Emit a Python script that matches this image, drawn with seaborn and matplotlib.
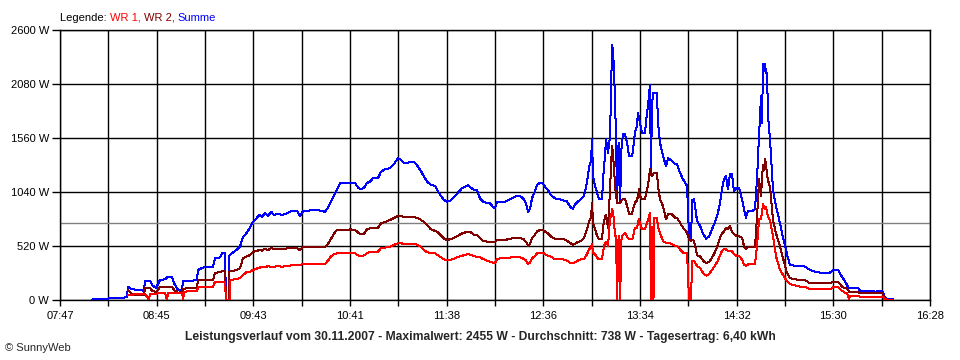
import numpy as np
import pandas as pd
import matplotlib
matplotlib.use("Agg")
import matplotlib.pyplot as plt
import seaborn as sns

nan = np.nan

# ---------------- data ----------------
# sample times in minutes after midnight
time_min = [
    486.2, 491.0, 495.7, 496.9, 502.9, 507.1, 507.7, 509.5, 511.9, 514.9,
    517.3, 517.9, 520.3, 520.9, 522.1, 524.5, 526.9, 529.9, 531.1, 531.7,
    534.1, 535.3, 537.7, 540.1, 540.7, 541.3, 544.9, 549.0, 549.6, 553.8,
    558.6, 559.8, 562.8, 564.0, 565.8, 566.4, 567.9, 568.5, 569.1, 571.8,
    574.8, 576.6, 579.0, 580.8, 582.6, 584.4, 586.2, 588.0, 589.8, 591.6,
    593.4, 595.2, 597.5, 599.9, 602.3, 604.7, 606.5, 608.9, 610.7, 612.5,
    615.5, 618.5, 621.5, 623.9, 625.7, 627.5, 629.3, 631.1, 632.9, 634.7,
    637.7, 640.7, 643.7, 645.5, 647.3, 649.1, 650.8, 652.6, 654.4, 657.4,
    659.2, 661.6, 664.6, 667.0, 669.4, 671.2, 673.0, 674.8, 676.6, 679.0,
    681.4, 683.2, 685.0, 686.8, 689.2, 691.6, 693.4, 695.2, 697.0, 698.8,
    700.6, 702.3, 704.1, 705.9, 707.7, 709.5, 711.3, 713.1, 714.9, 716.7,
    718.5, 720.3, 722.7, 724.5, 726.3, 727.5, 728.7, 730.5, 733.5, 735.3,
    737.7, 740.1, 742.5, 744.3, 746.1, 747.3, 748.5, 749.7, 751.5, 752.6,
    754.4, 756.2, 757.4, 759.2, 761.0, 763.4, 766.4, 768.2, 770.6, 772.4,
    774.2, 775.4, 777.2, 779.0, 780.8, 782.6, 783.8, 785.0, 785.6, 786.2,
    787.4, 788.6, 789.8, 791.6, 792.2, 793.4, 794.0, 795.2, 796.4, 797.0,
    797.6, 798.2, 798.8, 799.4, 800.0, 800.6, 801.5, 802.4, 803.3, 804.2,
    805.4, 806.6, 807.8, 809.5, 810.1, 811.3, 812.5, 813.1, 813.7, 814.3,
    815.5, 817.3, 818.5, 819.1, 820.3, 820.9, 821.5, 822.4, 823.0, 824.5,
    825.1, 826.3, 828.1, 829.9, 831.1, 833.5, 835.3, 836.5, 838.3, 840.1,
    842.5, 843.7, 844.9, 845.5, 846.7, 848.5, 850.3, 852.1, 853.9, 855.7,
    857.5, 859.2, 861.0, 862.2, 863.4, 864.6, 865.8, 867.0, 868.2, 869.4,
    870.6, 872.4, 873.6, 875.4, 876.6, 877.8, 879.0, 881.4, 883.2, 884.4,
    885.6, 886.8, 887.4, 888.0, 888.6, 889.2, 889.8, 890.4, 891.0, 892.2,
    894.0, 895.8, 898.2, 900.0, 901.8, 903.0, 904.2, 907.2, 910.2, 913.1,
    916.1, 919.1, 922.1, 925.1, 928.1, 929.9, 932.9, 935.3, 937.1, 938.3,
    939.5, 940.1, 941.3, 944.9, 946.1, 949.1, 952.1, 955.1, 958.1, 959.9,
    960.5, 962.3, 965.8,
]

summe_w = [
    5, 7, 10, 20, 22, 25, 128, 110, 100, 95,
    90, 186, 180, 186, 145, 115, 193, 200, 218, 218,
    218, 160, 96, 100, 186, 186, 186, 190, 289, 321,
    321, 401, 410, 450, 450, 0, 0, 433, 440, 470,
    514, 607, 650, 700, 754, 780, 820, 800, 840, 810,
    850, 820, 830, 820, 830, 850, 860, 860, 809, 855,
    860, 867, 867, 855, 850, 890, 950, 1010, 1060, 1124,
    1124, 1124, 1130, 1080, 1066, 1080, 1127, 1140, 1172, 1172,
    1235, 1260, 1268, 1310, 1364, 1350, 1316, 1316, 1332, 1332,
    1284, 1240, 1188, 1140, 1107, 1100, 1043, 1000, 963, 947,
    955, 979, 1010, 1043, 1076, 1090, 1107, 1080, 1059, 1059,
    980, 947, 934, 930, 898, 883, 947, 947, 947, 960,
    982, 1000, 1001, 979, 930, 850, 880, 982, 1050, 1107,
    1130, 1120, 1091, 1059, 1011, 979, 970, 960, 950, 900,
    875, 921, 950, 970, 1000, 1130, 1280, 1339, 1547, 1194,
    1100, 1033, 970, 970, 1162, 1400, 1547, 1418, 1579, 2000,
    2455, 2400, 2189, 1900, 1547, 937, 1515, 937, 1483, 1595,
    1595, 1515, 1387, 1387, 1435, 1611, 1675, 1804, 1750, 1707,
    1611, 1611, 1804, 1868, 2070, 1200, 1900, 1997, 1997, 1997,
    1707, 1515, 1387, 1290, 1365, 1339, 1307, 1307, 1226, 1162,
    1098, 616, 568, 960, 970, 761, 713, 640, 590, 610,
    684, 744, 841, 931, 1066, 1162, 1194, 1066, 1210, 1210,
    1050, 1082, 1082, 970, 876, 793, 857, 857, 873, 1162,
    1579, 1964, 1707, 2272, 2200, 2272, 2189, 2189, 1772, 1541,
    1059, 900, 738, 600, 481, 400, 337, 330, 330, 321,
    289, 273, 263, 263, 263, 289, 289, 224, 180, 144,
    112, 112, 119, 119, 90, 80, 90, 80, 85, 80,
    32, 10, 8,
]

wr2_w = [
    nan, nan, nan, nan, nan, nan, 96, 65, 50, 50,
    50, 120, 118, 120, 90, 75, 125, 130, 125, 128,
    130, 96, 70, 75, 110, 110, 113, 115, 193, 193,
    193, 260, 270, 275, 275, 0, 0, 275, 278, 285,
    305, 404, 420, 433, 465, 470, 480, 475, 495, 480,
    500, 490, 495, 490, 495, 500, 498, 500, 481, 507,
    507, 507, 510, 507, 507, 540, 590, 640, 674, 674,
    670, 680, 674, 650, 632, 640, 680, 690, 690, 695,
    738, 750, 770, 790, 809, 809, 796, 796, 796, 796,
    790, 770, 754, 720, 680, 665, 650, 620, 590, 578,
    585, 594, 610, 625, 640, 650, 658, 650, 630, 626,
    600, 570, 562, 562, 560, 555, 578, 578, 578, 585,
    594, 600, 594, 590, 560, 520, 540, 594, 630, 660,
    674, 674, 660, 640, 610, 590, 590, 590, 570, 552,
    530, 540, 560, 568, 600, 680, 760, 793, 937, 744,
    680, 620, 584, 584, 700, 809, 820, 696, 1066, 1300,
    1483, 1400, 1259, 1100, 1001, 937, 937, 937, 960, 970,
    970, 905, 825, 825, 870, 937, 960, 1000, 1066, 1000,
    970, 970, 1066, 1100, 1259, 1200, 1194, 1220, 1226, 1226,
    1100, 970, 905, 777, 825, 825, 793, 793, 744, 696,
    648, 580, 568, 580, 568, 430, 420, 380, 355, 365,
    408, 460, 530, 600, 640, 660, 696, 680, 713, 660,
    632, 616, 616, 600, 520, 488, 514, 514, 514, 793,
    1162, 1000, 1178, 1300, 1250, 1355, 1318, 1200, 1150, 1091,
    770, 640, 514, 400, 289, 240, 209, 200, 193, 193,
    160, 160, 160, 160, 160, 176, 176, 130, 112, 112,
    80, 80, 80, 80, 64, 64, 64, 64, 64, 64,
    16, 5, 3,
]

wr1_w = [
    nan, nan, nan, nan, nan, nan, 48, 50, 55, 55,
    58, 62, 0, 62, 62, 62, 64, 64, 0, 64,
    64, 64, 64, 70, 0, 80, 85, 85, 122, 122,
    125, 176, 176, 176, 176, 0, 0, 0, 190, 200,
    209, 240, 273, 273, 290, 300, 310, 320, 318, 325,
    321, 321, 325, 321, 325, 330, 337, 337, 337, 347,
    347, 347, 347, 347, 347, 380, 420, 440, 450, 450,
    450, 455, 450, 430, 424, 430, 450, 465, 465, 465,
    498, 505, 514, 530, 546, 546, 540, 540, 540, 540,
    530, 510, 480, 460, 450, 450, 430, 410, 390, 385,
    385, 395, 405, 417, 425, 435, 443, 435, 420, 417,
    410, 395, 379, 370, 359, 355, 395, 401, 401, 405,
    411, 411, 411, 400, 380, 347, 360, 401, 425, 450,
    456, 456, 440, 425, 417, 392, 392, 392, 380, 359,
    359, 362, 380, 392, 395, 440, 490, 504, 536, 456,
    440, 410, 392, 392, 470, 552, 560, 520, 793, 800,
    876, 850, 744, 616, 616, 0, 616, 0, 616, 625,
    648, 610, 584, 584, 600, 696, 696, 740, 777, 740,
    680, 680, 744, 760, 841, 0, 700, 0, 793, 793,
    700, 648, 568, 552, 552, 540, 520, 520, 488, 456,
    456, 0, 0, 376, 376, 327, 310, 260, 235, 250,
    290, 330, 380, 430, 470, 488, 488, 472, 472, 472,
    440, 424, 424, 390, 340, 327, 343, 343, 343, 520,
    777, 777, 850, 921, 900, 873, 898, 850, 800, 770,
    610, 420, 289, 240, 193, 170, 154, 140, 128, 128,
    103, 103, 103, 103, 103, 122, 122, 90, 71, 71,
    10, 38, 38, 38, 32, 32, 32, 32, 32, 32,
    10, 3, 2,
]

average_w = 738
y_ticks_w = [0, 520, 1040, 1560, 2080, 2600]
x_tick_labels = ["07:47", "08:45", "09:43", "10:41", "11:38",
                 "12:36", "13:34", "14:32", "15:30", "16:28"]
x_start_min, x_end_min = 467, 988  # 07:47 .. 16:28

legend_parts = ["Legende: ", "WR 1, ", "WR 2, ", "Summe"]
title_text = ("Leistungsverlauf vom 30.11.2007 - Maximalwert: 2455 W - "
              "Durchschnitt: 738 W - Tagesertrag: 6,40 kWh")
credit_text = "\u00a9 SunnyWeb"

assert len(time_min) == len(summe_w) == len(wr2_w) == len(wr1_w)

# ---------------- style ----------------
sns.set_style("white")
plt.rcParams["font.family"] = ["Liberation Sans", "DejaVu Sans"]
plt.rcParams["font.size"] = 8

C_WR1 = "#ff0000"
C_WR2 = "#800000"
C_SUM = "#0000ff"

df = pd.DataFrame({"t": time_min, "Summe": summe_w, "WR 2": wr2_w, "WR 1": wr1_w})

fig = plt.figure(figsize=(9.6, 3.6), dpi=100)
fig.patch.set_facecolor("white")
ax = fig.add_axes([60 / 960, 60 / 360, 870 / 960, 270 / 360])

for col, c in [("Summe", C_SUM), ("WR 2", C_WR2), ("WR 1", C_WR1)]:
    sub = df[["t", col]].dropna()
    sns.lineplot(data=sub, x="t", y=col, ax=ax, color=c, linewidth=0.72,
                 estimator=None, sort=False, legend=False, zorder=3)

for ln in ax.lines:
    ln.set_antialiased(False)

ax.axhline(average_w, color="#808080", linewidth=1.0, zorder=2)

ax.set_xlim(x_start_min, x_end_min)
ax.set_ylim(0, 2600)
xt = np.linspace(x_start_min, x_end_min, 2 * len(x_tick_labels) - 1)
xl = []
for i in range(len(xt)):
    xl.append(x_tick_labels[i // 2] if i % 2 == 0 else "")
ax.set_xticks(xt, xl)
ax.set_yticks(y_ticks_w, [f"{v} W" for v in y_ticks_w])
ax.set_xlabel("")
ax.set_ylabel("")
ax.grid(True, color="black", linewidth=1.0)
ax.set_axisbelow(True)
for s in ax.spines.values():
    s.set_color("black")
    s.set_linewidth(1.0)
ax.tick_params(axis="y", direction="out", length=6, width=1.0, pad=2,
               labelsize=8, colors="black", left=True)
ax.tick_params(axis="x", direction="out", length=4, width=1.0, pad=4,
               labelsize=8, colors="black", bottom=True)

# legend line at top
colors = ["black", C_WR1, C_WR2, C_SUM]
prev = fig.text(60 / 960, 1 - 23 / 360, legend_parts[0], color=colors[0],
                ha="left", va="bottom", fontsize=8)
for part, c in zip(legend_parts[1:], colors[1:]):
    prev = ax.annotate(part, xy=(1, 0), xycoords=prev, ha="left", va="bottom",
                       color=c, fontsize=8, annotation_clip=False)

fig.text(480 / 960, 1 - 337 / 360, title_text, ha="center", va="center",
         fontsize=8.7, fontweight="bold")
fig.text(5 / 960, 1 - 348 / 360, credit_text, ha="left", va="center", fontsize=8)

fig.savefig("out.png", dpi=100, facecolor="white")
